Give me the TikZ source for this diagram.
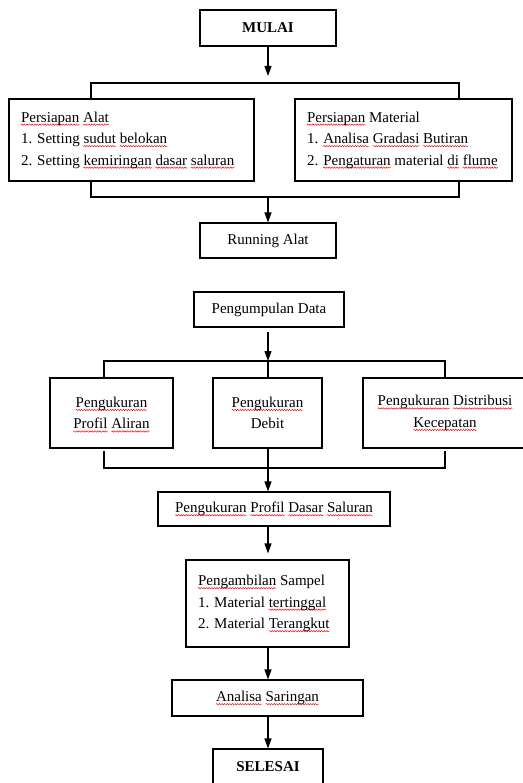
\documentclass[tikz,border=0pt]{standalone}
\usepackage{fontspec}
\setmainfont{Liberation Serif}
\usetikzlibrary{arrows.meta,decorations.pathmorphing}
\newsavebox\sqbox
\newcommand\sq[1]{\sbox\sqbox{#1}\makebox[0pt][l]{\tikz[overlay]\draw[red, line width=0.45pt, decorate, decoration={snake, amplitude=0.7pt, segment length=2.6pt}] (0pt,-2.6pt) -- (\wd\sqbox,-2.6pt);}\usebox\sqbox}
\tikzset{
  box/.style={draw, line width=1.1pt, inner sep=0pt, align=center,
    font=\fontsize{15}{21.5}\selectfont},
  lbox/.style={draw, line width=1.1pt, inner xsep=12pt, inner ysep=0pt, align=flush left,
    font=\fontsize{15}{21.5}\selectfont},
  conn/.style={line width=1.1pt},
  arr/.style={line width=1.1pt, -{Triangle[length=10pt,width=7pt]}},
}
\begin{document}
\begin{tikzpicture}[x=1pt,y=-1pt]
\useasboundingbox (0,0) rectangle (522,783);
% nodes
\node[box, minimum width=136pt, minimum height=36pt, font=\fontsize{15}{18}\selectfont\bfseries] (mulai) at (268,28) {MULAI};
\node[lbox, text width=221pt, minimum height=82pt] (alat) at (131.5,140)
  {\sq{Persiapan} \sq{Alat}\\1. Setting \sq{sudut} \sq{belokan}\\2. Setting \sq{kemiringan} \sq{dasar} \sq{saluran}};
\node[lbox, text width=193pt, minimum height=82pt] (mat) at (403.5,140)
  {\sq{Persiapan} Material\\1. \sq{Analisa} \sq{Gradasi} \sq{Butiran}\\2. \sq{Pengaturan} material \sq{di} \sq{flume}};
\node[box, minimum width=136pt, minimum height=35pt] (run) at (268,240.5) {Running Alat};
\node[box, minimum width=150pt, minimum height=35pt] (data) at (269,309.5) {Pengumpulan Data};
\node[box, minimum width=123pt, minimum height=70pt] (prof) at (111.5,413) {\sq{Pengukuran}\\\sq{Profil} \sq{Aliran}};
\node[box, minimum width=109pt, minimum height=70pt] (debit) at (267.5,413) {\sq{Pengukuran}\\Debit};
\node[box, minimum width=164pt, minimum height=70pt] (dist) at (445,413) {\sq{Pengukuran} \sq{Distribusi}\\\sq{Kecepatan}};
\node[box, minimum width=232pt, minimum height=34pt] (dasar) at (274,509) {\sq{Pengukuran} \sq{Profil} \sq{Dasar} \sq{Saluran}};
\node[lbox, text width=139pt, minimum height=87pt] (sampel) at (267.5,603.5)
  {\sq{Pengambilan} Sampel\\1. Material \sq{tertinggal}\\2. Material \sq{Terangkut}};
\node[box, minimum width=191pt, minimum height=36pt] (sar) at (267.5,698) {\sq{Analisa} \sq{Saringan}};
\node[box, minimum width=110pt, minimum height=36pt, font=\fontsize{15}{18}\selectfont\bfseries] (selesai) at (268,767) {SELESAI};
% helper coordinates
\coordinate (ax) at (268,0);
\coordinate (t1) at (268,76);
\coordinate (b1) at (268,197);
\coordinate (d1) at (268,332);
\coordinate (d2) at (268,361);
% connectors
\draw[arr] (mulai.south -| ax) -- (t1);
\draw[conn] (alat.north -| 91,0) -- (91,83) -- (459,83) -- (mat.north -| 459,0);
\draw[conn] (alat.south -| 91,0) -- (91,197) -- (459,197) -- (mat.south -| 459,0);
\draw[arr] (b1) -- (run.north -| ax);
\draw[arr] (d1) -- (d2);
\draw[conn] (prof.north -| 104,0) -- (104,361) -- (445,361) -- (dist.north -| 445,0);
\draw[conn] (d2) -- (debit.north -| ax);
\draw[conn] (104,451) -- (104,468) -- (445,468) -- (445,451);
\draw[arr] (debit.south -| ax) -- (dasar.north -| ax);
\draw[arr, shorten >=6pt] (dasar.south -| ax) -- (sampel.north -| ax);
\draw[arr] (sampel.south -| ax) -- (sar.north -| ax);
\draw[arr] (sar.south -| ax) -- (selesai.north -| ax);
\end{tikzpicture}
\end{document}
